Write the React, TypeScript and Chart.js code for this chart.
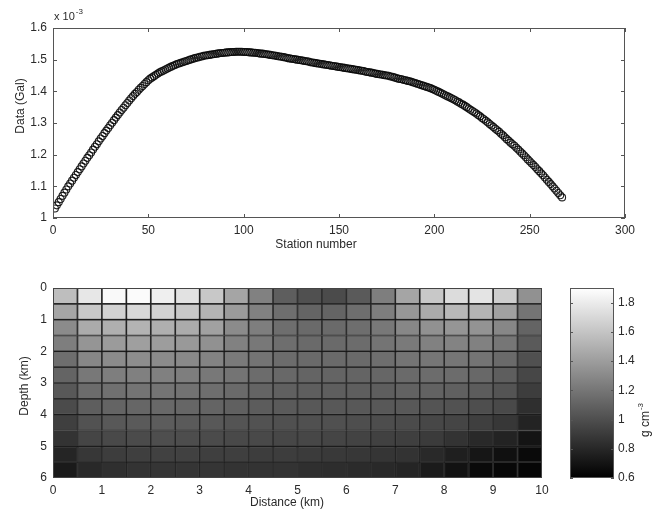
import { useEffect, useRef } from 'react';
import { Chart, registerables } from 'chart.js';

Chart.register(...registerables);

// ---------- Top panel: gravity data (values in units of 1e-3 Gal) ----------
const stationCount = 267;
const stationNumbers = Array.from({ length: stationCount }, (_, i) => i + 1);
const gravityE3 = [
  1.030, 1.040, 1.050, 1.060, 1.070, 1.080, 1.090, 1.100, 1.109, 1.118,
  1.127, 1.136, 1.145, 1.154, 1.163, 1.172, 1.181, 1.190, 1.198, 1.207,
  1.216, 1.225, 1.233, 1.242, 1.251, 1.259, 1.268, 1.276, 1.284, 1.293,
  1.301, 1.309, 1.317, 1.325, 1.333, 1.341, 1.348, 1.356, 1.363, 1.371,
  1.378, 1.385, 1.392, 1.398, 1.405, 1.411, 1.417, 1.423, 1.429, 1.435,
  1.440, 1.444, 1.448, 1.452, 1.456, 1.460, 1.463, 1.466, 1.469, 1.472,
  1.475, 1.478, 1.481, 1.483, 1.486, 1.488, 1.490, 1.492, 1.494, 1.496,
  1.498, 1.500, 1.502, 1.504, 1.506, 1.507, 1.509, 1.510, 1.512, 1.513,
  1.514, 1.515, 1.516, 1.517, 1.518, 1.519, 1.520, 1.521, 1.521, 1.522,
  1.523, 1.523, 1.524, 1.524, 1.524, 1.525, 1.525, 1.525, 1.525, 1.524,
  1.524, 1.524, 1.523, 1.523, 1.522, 1.522, 1.521, 1.520, 1.519, 1.519,
  1.518, 1.517, 1.516, 1.515, 1.514, 1.513, 1.512, 1.511, 1.510, 1.509,
  1.508, 1.507, 1.505, 1.504, 1.503, 1.502, 1.501, 1.500, 1.499, 1.498,
  1.497, 1.496, 1.495, 1.494, 1.492, 1.491, 1.490, 1.489, 1.488, 1.487,
  1.486, 1.485, 1.484, 1.483, 1.482, 1.481, 1.480, 1.479, 1.478, 1.477,
  1.476, 1.475, 1.474, 1.473, 1.472, 1.471, 1.470, 1.469, 1.468, 1.467,
  1.466, 1.465, 1.464, 1.462, 1.461, 1.460, 1.459, 1.458, 1.456, 1.455,
  1.454, 1.453, 1.452, 1.451, 1.450, 1.449, 1.447, 1.446, 1.444, 1.442,
  1.440, 1.439, 1.438, 1.436, 1.435, 1.433, 1.432, 1.430, 1.428, 1.426,
  1.424, 1.422, 1.420, 1.418, 1.416, 1.414, 1.412, 1.410, 1.407, 1.405,
  1.402, 1.399, 1.396, 1.393, 1.390, 1.387, 1.384, 1.381, 1.378, 1.375,
  1.372, 1.368, 1.365, 1.361, 1.358, 1.354, 1.350, 1.346, 1.342, 1.338,
  1.334, 1.330, 1.325, 1.321, 1.316, 1.312, 1.307, 1.302, 1.297, 1.292,
  1.287, 1.282, 1.277, 1.272, 1.266, 1.261, 1.255, 1.249, 1.244, 1.238,
  1.233, 1.228, 1.222, 1.216, 1.210, 1.204, 1.198, 1.192, 1.185, 1.179,
  1.173, 1.167, 1.161, 1.154, 1.148, 1.141, 1.135, 1.128, 1.121, 1.114,
  1.107, 1.100, 1.093, 1.086, 1.079, 1.072, 1.065,
];
const stationTicks = [0, 50, 100, 150, 200, 250, 300];
const gravityTicks = [1.0, 1.1, 1.2, 1.3, 1.4, 1.5, 1.6];

// ---------- Bottom panel: density model (g cm^-3) ----------
const distanceKm = [0, 0.5, 1, 1.5, 2, 2.5, 3, 3.5, 4, 4.5, 5, 5.5, 6, 6.5, 7, 7.5, 8, 8.5, 9, 9.5, 10];
const depthKm = [0, 0.5, 1, 1.5, 2, 2.5, 3, 3.5, 4, 4.5, 5, 5.5, 6];
const densityRow0 = [1.57, 1.78, 1.87, 1.88, 1.82, 1.75, 1.62, 1.44, 1.26, 1.08, 1.01, 0.98, 1.06, 1.24, 1.44, 1.62, 1.72, 1.76, 1.65, 1.34];
const densityRow1 = [1.44, 1.62, 1.67, 1.70, 1.67, 1.62, 1.52, 1.39, 1.26, 1.16, 1.11, 1.11, 1.16, 1.24, 1.37, 1.47, 1.54, 1.52, 1.42, 1.19];
const densityRow2 = [1.31, 1.47, 1.49, 1.51, 1.49, 1.47, 1.42, 1.31, 1.24, 1.16, 1.14, 1.14, 1.16, 1.21, 1.29, 1.34, 1.36, 1.35, 1.29, 1.11];
const densityRow3 = [1.24, 1.36, 1.39, 1.41, 1.40, 1.38, 1.34, 1.26, 1.21, 1.16, 1.14, 1.14, 1.15, 1.19, 1.22, 1.26, 1.27, 1.26, 1.20, 1.06];
const densityRow4 = [1.16, 1.29, 1.31, 1.32, 1.31, 1.30, 1.27, 1.22, 1.19, 1.15, 1.14, 1.14, 1.14, 1.16, 1.19, 1.20, 1.20, 1.19, 1.14, 1.01];
const densityRow5 = [1.11, 1.21, 1.24, 1.25, 1.25, 1.24, 1.21, 1.19, 1.15, 1.13, 1.11, 1.11, 1.11, 1.12, 1.14, 1.15, 1.15, 1.13, 1.08, 0.96];
const densityRow6 = [1.05, 1.15, 1.17, 1.19, 1.19, 1.18, 1.16, 1.14, 1.11, 1.09, 1.08, 1.08, 1.08, 1.08, 1.10, 1.10, 1.09, 1.07, 1.03, 0.91];
const densityRow7 = [0.98, 1.08, 1.11, 1.12, 1.13, 1.12, 1.11, 1.09, 1.07, 1.06, 1.05, 1.05, 1.05, 1.05, 1.05, 1.03, 1.02, 1.00, 0.97, 0.84];
const densityRow8 = [0.92, 1.02, 1.05, 1.06, 1.07, 1.06, 1.05, 1.03, 1.02, 1.01, 1.01, 1.01, 1.00, 0.99, 0.98, 0.96, 0.95, 0.92, 0.88, 0.78];
const densityRow9 = [0.86, 0.95, 0.97, 0.98, 1.00, 0.99, 0.98, 0.97, 0.97, 0.96, 0.96, 0.95, 0.94, 0.93, 0.92, 0.90, 0.86, 0.81, 0.78, 0.70];
const densityRow10 = [0.79, 0.88, 0.91, 0.92, 0.93, 0.93, 0.92, 0.92, 0.91, 0.91, 0.90, 0.89, 0.88, 0.87, 0.86, 0.81, 0.76, 0.71, 0.68, 0.65];
const densityRow11 = [0.73, 0.81, 0.84, 0.86, 0.87, 0.87, 0.87, 0.86, 0.86, 0.86, 0.84, 0.83, 0.82, 0.81, 0.79, 0.74, 0.69, 0.65, 0.64, 0.63];
const densityRows = [
  densityRow0, densityRow1, densityRow2, densityRow3, densityRow4, densityRow5,
  densityRow6, densityRow7, densityRow8, densityRow9, densityRow10, densityRow11,
];
const distanceTicks = [0, 1, 2, 3, 4, 5, 6, 7, 8, 9, 10];
const depthTicks = [0, 1, 2, 3, 4, 5, 6];
const densityMin = 0.6;
const densityMax = 1.9;
const colorbarTicks = [0.6, 0.8, 1.0, 1.2, 1.4, 1.6, 1.8];

// ---------- styling ----------
const FONT_FAMILY = '"Liberation Sans", Arial, Helvetica, sans-serif';
const TEXT = '#2a2a2a';
const tickFont = { family: FONT_FAMILY, size: 12 };

function grayFor(v: number): string {
  const t = Math.max(0, Math.min(1, (v - densityMin) / (densityMax - densityMin)));
  const g = Math.round(t * 255);
  return `rgb(${g},${g},${g})`;
}

function fmt(v: number): string {
  return String(Number(Number(v).toFixed(2)));
}

const decorPlugin = {
  id: 'decor',
  afterDraw(chart: any, _args: any, opts: any) {
    const { ctx, chartArea } = chart;
    if (!chartArea) return;
    const { left, right, top, bottom } = chartArea;
    ctx.save();
    if (opts.frame) {
      ctx.strokeStyle = opts.frameColor || '#555';
      ctx.lineWidth = 1;
      ctx.strokeRect(Math.round(left) + 0.5, Math.round(top) + 0.5, Math.round(right - left) - 1, Math.round(bottom - top) - 1);
    }
    const L = opts.tickLen || 0;
    if (L > 0) {
      ctx.strokeStyle = opts.frameColor || '#555';
      ctx.lineWidth = 1;
      ctx.beginPath();
      for (const id of Object.keys(chart.scales)) {
        const sc = chart.scales[id];
        if (!sc.options.display) continue;
        for (const t of sc.ticks) {
          const p = Math.round(sc.getPixelForValue(t.value)) + 0.5;
          if (sc.isHorizontal()) {
            ctx.moveTo(p, bottom); ctx.lineTo(p, bottom - L);
            ctx.moveTo(p, top); ctx.lineTo(p, top + L);
          } else {
            ctx.moveTo(left, p); ctx.lineTo(left + L, p);
            ctx.moveTo(right, p); ctx.lineTo(right - L, p);
          }
        }
      }
      ctx.stroke();
    }
    for (const lab of opts.labels || []) {
      ctx.save();
      ctx.translate(lab.x, lab.y);
      ctx.rotate(lab.rot || 0);
      ctx.fillStyle = TEXT;
      ctx.textBaseline = 'middle';
      ctx.font = `${lab.size || 12}px ${FONT_FAMILY}`;
      const mainW = ctx.measureText(lab.text).width;
      let supW = 0;
      const supSize = lab.supSize || 8;
      if (lab.sup) {
        ctx.font = `${supSize}px ${FONT_FAMILY}`;
        supW = ctx.measureText(lab.sup).width + 1;
      }
      const total = mainW + supW;
      const x0 = lab.align === 'left' ? 0 : -total / 2;
      ctx.textAlign = 'left';
      ctx.font = `${lab.size || 12}px ${FONT_FAMILY}`;
      ctx.fillText(lab.text, x0, 0);
      if (lab.sup) {
        ctx.font = `${supSize}px ${FONT_FAMILY}`;
        ctx.fillText(lab.sup, x0 + mainW + 1, -5);
      }
      ctx.restore();
    }
    ctx.restore();
  },
};

export default function App() {
  const topRef = useRef<HTMLCanvasElement | null>(null);
  const mapRef = useRef<HTMLCanvasElement | null>(null);
  const cbRef = useRef<HTMLCanvasElement | null>(null);

  useEffect(() => {
    const charts: Chart[] = [];

    // ---- top: station data ----
    if (topRef.current) {
      charts.push(new Chart(topRef.current, {
        type: 'scatter',
        data: {
          datasets: [{
            data: stationNumbers.map((s, i) => ({ x: s, y: gravityE3[i] })),
            showLine: false,
            pointStyle: 'circle',
            pointRadius: 3.5,
            pointBorderWidth: 1.1,
            pointBorderColor: 'rgba(10,10,10,0.9)',
            pointBackgroundColor: 'rgba(0,0,0,0)',
          }],
        },
        options: {
          responsive: false,
          animation: false,
          devicePixelRatio: 1,
          layout: { padding: { left: 0, top: 28, right: 37, bottom: 0 } },
          plugins: {
            legend: { display: false },
            tooltip: { enabled: false },
            decor: {
              frame: true,
              tickLen: 4,
              labels: [
                { text: 'Station number', x: 316, y: 245 },
                { text: 'Data (Gal)', x: 21, y: 106, rot: -Math.PI / 2 },
                { text: 'x 10', sup: '-3', x: 54, y: 17, size: 11, align: 'left' },
              ],
            },
          } as any,
          scales: {
            x: {
              type: 'linear',
              min: 0,
              max: 300,
              afterBuildTicks: (s: any) => { s.ticks = stationTicks.map((v) => ({ value: v })); },
              afterFit: (s: any) => { s.height = 42; },
              ticks: { padding: 5, color: TEXT, font: tickFont, maxRotation: 0, callback: (v: any) => fmt(v) },
              grid: { display: false, drawTicks: false },
              border: { display: false },
            },
            y: {
              type: 'linear',
              min: 1.0,
              max: 1.6,
              afterBuildTicks: (s: any) => { s.ticks = gravityTicks.map((v) => ({ value: v })); },
              afterFit: (s: any) => { s.width = 53; },
              ticks: { padding: 6, color: TEXT, font: tickFont, callback: (v: any) => fmt(v) },
              grid: { display: false, drawTicks: false },
              border: { display: false },
            },
          },
        },
        plugins: [decorPlugin],
      } as any));
    }

    // ---- bottom: density model ----
    if (mapRef.current) {
      const datasets = densityRows.map((row, r) => ({
        data: row.map((_, c) => ({
          x: (distanceKm[c] + distanceKm[c + 1]) / 2,
          y: [depthKm[r], depthKm[r + 1]],
        })),
        backgroundColor: row.map((v) => grayFor(v)),
        borderColor: 'rgba(0,0,0,0.8)',
        borderWidth: 1.2,
        borderSkipped: false,
        grouped: false,
        barPercentage: 1,
        categoryPercentage: 1,
      }));
      charts.push(new Chart(mapRef.current, {
        type: 'bar',
        data: { datasets },
        options: {
          responsive: false,
          animation: false,
          devicePixelRatio: 1,
          layout: { padding: { left: 0, top: 28, right: 18, bottom: 0 } },
          plugins: {
            legend: { display: false },
            tooltip: { enabled: false },
            decor: {
              frame: true,
              frameColor: '#444',
              tickLen: 0,
              labels: [
                { text: 'Distance (km)', x: 287, y: 243 },
                { text: 'Depth (km)', x: 25, y: 126, rot: -Math.PI / 2 },
              ],
            },
          } as any,
          scales: {
            x: {
              type: 'linear',
              min: 0,
              max: 10,
              offset: false,
              afterBuildTicks: (s: any) => { s.ticks = distanceTicks.map((v) => ({ value: v })); },
              afterFit: (s: any) => { s.height = 32; },
              ticks: { padding: 5, color: TEXT, font: tickFont, maxRotation: 0, callback: (v: any) => fmt(v) },
              grid: { display: false, drawTicks: false, offset: false },
              border: { display: false },
            },
            y: {
              type: 'linear',
              min: 0,
              max: 6,
              reverse: true,
              beginAtZero: false,
              afterBuildTicks: (s: any) => { s.ticks = depthTicks.map((v) => ({ value: v })); },
              afterFit: (s: any) => { s.width = 53; },
              ticks: { padding: 6, color: TEXT, font: tickFont, callback: (v: any) => fmt(v) },
              grid: { display: false, drawTicks: false },
              border: { display: false },
            },
          },
        },
        plugins: [decorPlugin],
      } as any));
    }

    // ---- colorbar ----
    if (cbRef.current) {
      charts.push(new Chart(cbRef.current, {
        type: 'bar',
        data: {
          labels: ['density'],
          datasets: [{
            data: [[densityMin, densityMax]],
            backgroundColor: (ctx: any) => {
              const chart = ctx.chart;
              const area = chart.chartArea;
              if (!area) return '#888';
              const ys = chart.scales.y;
              const g = chart.ctx.createLinearGradient(0, ys.getPixelForValue(densityMin), 0, ys.getPixelForValue(densityMax));
              g.addColorStop(0, grayFor(densityMin));
              g.addColorStop(1, grayFor(densityMax));
              return g;
            },
            borderWidth: 0,
            barPercentage: 1,
            categoryPercentage: 1,
          }],
        },
        options: {
          responsive: false,
          animation: false,
          devicePixelRatio: 1,
          layout: { padding: { left: 10, top: 28, right: 0, bottom: 32 } },
          plugins: {
            legend: { display: false },
            tooltip: { enabled: false },
            decor: {
              frame: true,
              frameColor: '#555',
              tickLen: 3,
              labels: [
                { text: 'g cm', sup: '-3', x: 86, y: 160, rot: -Math.PI / 2, size: 12, supSize: 8 },
              ],
            },
          } as any,
          scales: {
            x: { display: false, offset: true },
            y: {
              type: 'linear',
              position: 'right',
              min: densityMin,
              max: densityMax,
              beginAtZero: false,
              afterBuildTicks: (s: any) => { s.ticks = colorbarTicks.map((v) => ({ value: v })); },
              afterFit: (s: any) => { s.width = 48; },
              ticks: { padding: 4, color: TEXT, font: tickFont, callback: (v: any) => fmt(v) },
              grid: { display: false, drawTicks: false },
              border: { display: false },
            },
          },
        },
        plugins: [decorPlugin],
      } as any));
    }

    return () => { charts.forEach((c) => c.destroy()); };
  }, []);

  return (
    <div style={{ position: 'fixed', left: 0, top: 0, width: 662, height: 510, background: '#fff' }}>
      <canvas ref={topRef} width={662} height={260} style={{ position: 'absolute', left: 0, top: 0, width: 662, height: 260 }} />
      <canvas ref={mapRef} width={560} height={250} style={{ position: 'absolute', left: 0, top: 260, width: 560, height: 250 }} />
      <canvas ref={cbRef} width={102} height={250} style={{ position: 'absolute', left: 560, top: 260, width: 102, height: 250 }} />
    </div>
  );
}
